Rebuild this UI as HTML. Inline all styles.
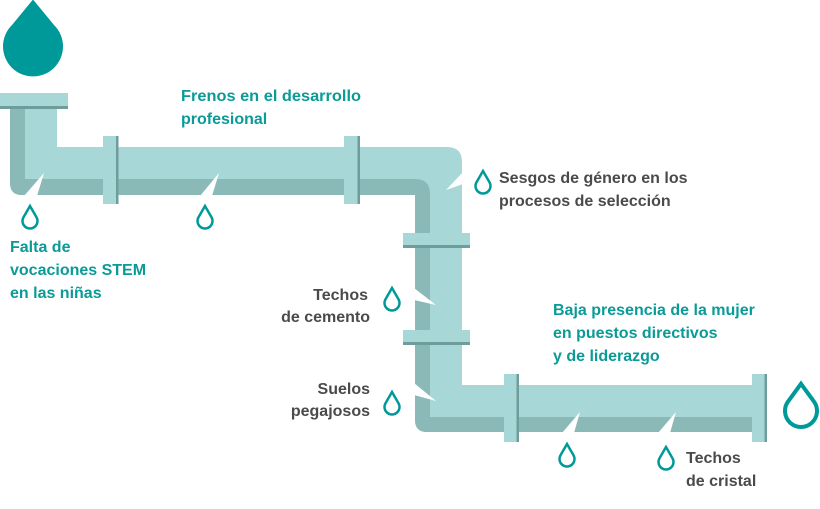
<!DOCTYPE html>
<html><head><meta charset="utf-8"><style>
html,body{margin:0;padding:0;background:#fff;}
svg{display:block}
text{font-family:"Liberation Sans",sans-serif;font-weight:bold;font-size:16px;}
.t{fill:#0a9b97}.g{fill:#4a4a4a}
</style></head><body>
<svg width="820" height="509" viewBox="0 0 820 509" xmlns="http://www.w3.org/2000/svg">
<defs>
<path id="d" d="M0,-1.55 L0.7,-0.7 A1,1 0 1 1 -0.7,-0.7 Z"/>
<path id="s" d="M0,-2 L0.866,-0.5 A1,1 0 1 1 -0.866,-0.5 Z"/>
<path id="m" d="M0,-1.7 L0.81,-0.59 A1,1 0 1 1 -0.81,-0.59 Z"/>
</defs>
<use href="#d" transform="translate(33,46) scale(30)" fill="#00999a"/>
<path d="M10,108 H57 V147 H447 Q462,147 462,162 V385 H767 V432 H427 Q415,432 415,420 V195 H22 Q10,195 10,183 Z" fill="#a8d7d7"/>
<path d="M10,108 H25 V179 H415 Q430,179 430,194 V417 H767 V432 H427 Q415,432 415,420 V195 H22 Q10,195 10,183 Z" fill="#8ab9b8"/>
<rect x="0" y="93" width="68" height="13" fill="#a8d7d7"/>
<rect x="0" y="106" width="68" height="3" fill="#6e9d9b"/>
<rect x="103" y="136" width="15" height="68" fill="#a8d7d7"/><rect x="116" y="136" width="2.5" height="68" fill="#6e9d9b"/>
<rect x="344" y="136" width="16" height="68" fill="#a8d7d7"/><rect x="357.5" y="136" width="2.5" height="68" fill="#6e9d9b"/>
<rect x="504" y="374" width="15" height="68" fill="#a8d7d7"/><rect x="516.5" y="374" width="2.5" height="68" fill="#6e9d9b"/>
<rect x="752" y="374" width="15" height="68" fill="#a8d7d7"/><rect x="764.5" y="374" width="2.5" height="68" fill="#6e9d9b"/>
<rect x="403" y="233" width="67" height="12" fill="#a8d7d7"/><rect x="403" y="245" width="67" height="3" fill="#6e9d9b"/>
<rect x="403" y="330" width="67" height="12" fill="#a8d7d7"/><rect x="403" y="342" width="67" height="3" fill="#6e9d9b"/>
<g fill="#fff">
<polygon points="44,173 24,196 37,196"/>
<polygon points="219,173 200,196 212,196"/>
<polygon points="463,172 446,190 463,184"/>
<polygon points="414,288 436,305 414,300"/>
<polygon points="414,383 436,401 414,395"/>
<polygon points="580,412 562,433 574,433"/>
<polygon points="676,412 658,433 670,433"/>
</g>
<g fill="none" stroke="#00999a">
<use href="#s" transform="translate(30,221) scale(7.5)" stroke-width="0.33"/>
<use href="#s" transform="translate(205,221) scale(7.5)" stroke-width="0.33"/>
<use href="#s" transform="translate(483,186) scale(7.5)" stroke-width="0.33"/>
<use href="#s" transform="translate(392,303) scale(7.5)" stroke-width="0.33"/>
<use href="#s" transform="translate(392,407) scale(7.5)" stroke-width="0.33"/>
<use href="#s" transform="translate(567,459) scale(7.5)" stroke-width="0.33"/>
<use href="#s" transform="translate(666,462) scale(7.5)" stroke-width="0.33"/>
<use href="#m" transform="translate(801,411) scale(16)" stroke-width="0.25"/>
</g>
<g>
<text class="t" x="181" y="101" textLength="180" lengthAdjust="spacingAndGlyphs">Frenos en el desarrollo</text>
<text class="t" x="181" y="124">profesional</text>
<text class="t" x="10" y="252">Falta de</text>
<text class="t" x="10" y="275">vocaciones STEM</text>
<text class="t" x="10" y="298">en las niñas</text>
<text class="g" x="499" y="183">Sesgos de género en los</text>
<text class="g" x="499" y="206">procesos de selección</text>
<text class="g" x="368" y="300" text-anchor="end">Techos</text>
<text class="g" x="370" y="322" text-anchor="end">de cemento</text>
<text class="g" x="370" y="394" text-anchor="end">Suelos</text>
<text class="g" x="370" y="416" text-anchor="end">pegajosos</text>
<text class="t" x="553" y="315">Baja presencia de la mujer</text>
<text class="t" x="553" y="338">en puestos directivos</text>
<text class="t" x="553" y="361">y de liderazgo</text>
<text class="g" x="686" y="463">Techos</text>
<text class="g" x="686" y="486">de cristal</text>
</g>
</svg>
</body></html>
